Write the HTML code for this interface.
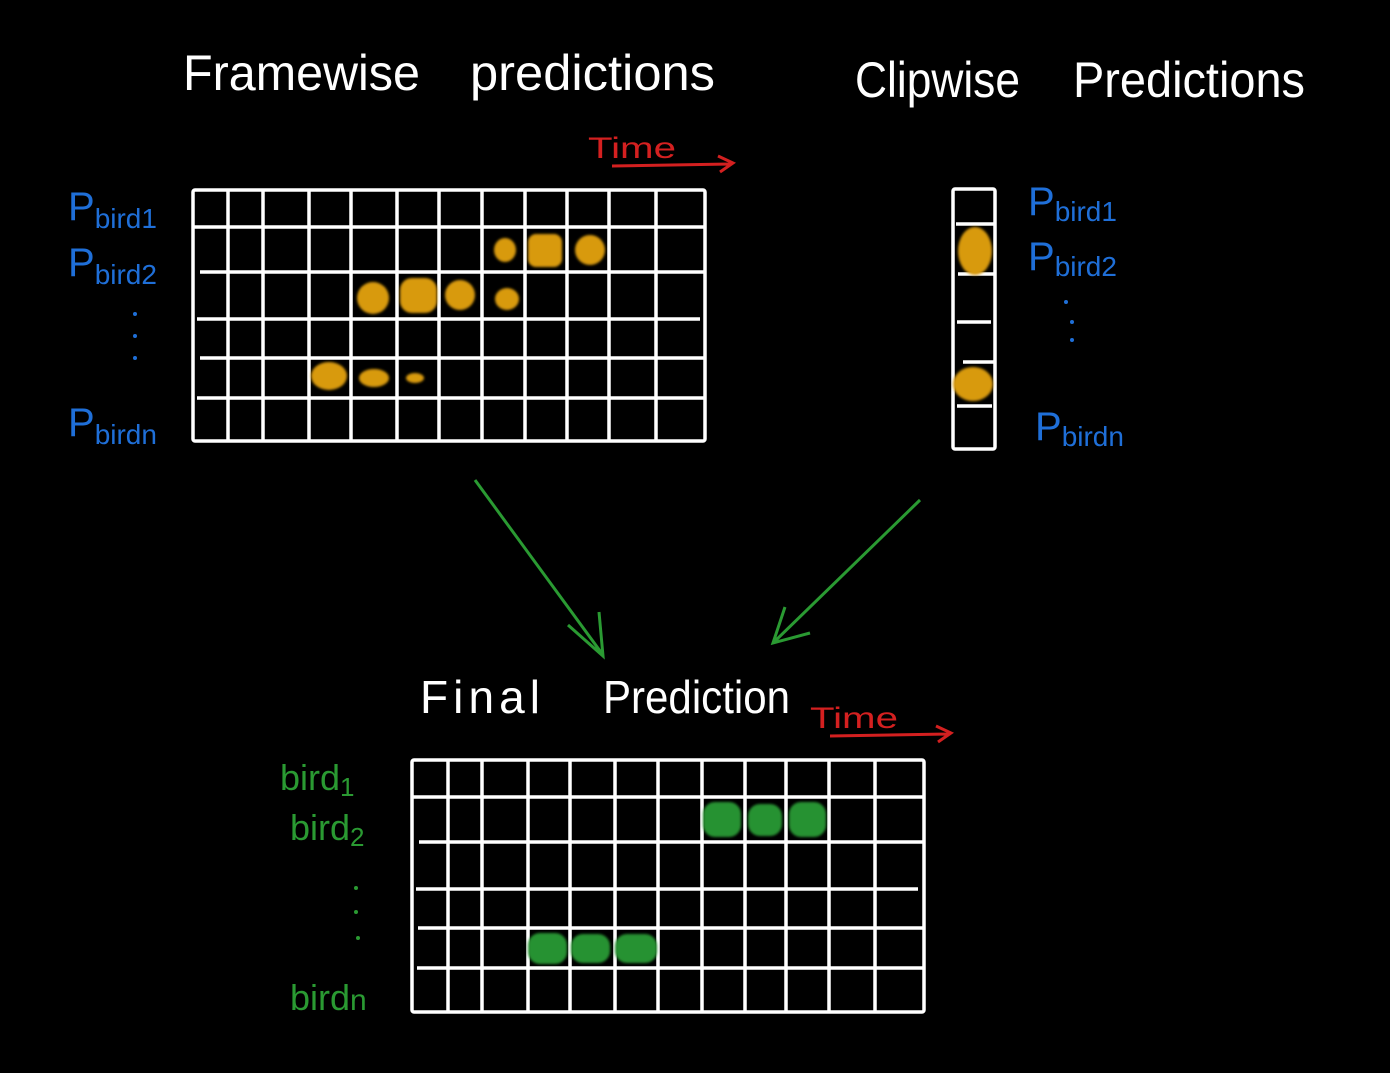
<!DOCTYPE html>
<html><head><meta charset="utf-8"><style>
html,body{margin:0;padding:0;background:#000;}
body{width:1390px;height:1073px;overflow:hidden;position:relative;}
svg{position:absolute;left:0;top:0;}
text{font-family:"Liberation Sans","DejaVu Sans",sans-serif;}
</style></head><body>
<svg width="1390" height="1073" viewBox="0 0 1390 1073">
<defs><filter id="b"><feGaussianBlur stdDeviation="1.2"/></filter></defs>
<!-- titles -->
<text x="183" y="90" fill="#fff" font-size="50" textLength="237" lengthAdjust="spacingAndGlyphs">Framewise</text>
<text x="470" y="90" fill="#fff" font-size="50" textLength="245" lengthAdjust="spacingAndGlyphs">predictions</text>
<text x="855" y="97" fill="#fff" font-size="50" textLength="165" lengthAdjust="spacingAndGlyphs">Clipwise</text>
<text x="1073" y="97" fill="#fff" font-size="50" textLength="232" lengthAdjust="spacingAndGlyphs">Predictions</text>
<text x="420" y="713" fill="#fff" font-size="46" textLength="120" lengthAdjust="spacing">Final</text>
<text x="603" y="713" fill="#fff" font-size="46" textLength="187" lengthAdjust="spacingAndGlyphs">Prediction</text>
<!-- Time -->
<text x="588" y="158" fill="#d42020" font-size="30" textLength="88" lengthAdjust="spacingAndGlyphs">Time</text>
<path d="M612 166 L730 164 M718 156 L733 163 L720 172" stroke="#d42020" stroke-width="3" fill="none"/>
<text x="810" y="728" fill="#d42020" font-size="30" textLength="88" lengthAdjust="spacingAndGlyphs">Time</text>
<path d="M830 736 L948 734 M936 726 L951 733 L938 742" stroke="#d42020" stroke-width="3" fill="none"/>
<!-- blue labels left -->
<g fill="#1f6fd8" font-size="40">
<text x="68" y="220">P<tspan font-size="28" dy="8">bird1</tspan></text>
<text x="68" y="276">P<tspan font-size="28" dy="8">bird2</tspan></text>
<text x="68" y="436">P<tspan font-size="28" dy="8">birdn</tspan></text>
<text x="1028" y="215">P<tspan font-size="28" dy="6">bird1</tspan></text>
<text x="1028" y="270">P<tspan font-size="28" dy="6">bird2</tspan></text>
<text x="1035" y="440">P<tspan font-size="28" dy="6">birdn</tspan></text>
</g>
<g fill="#1f6fd8"><circle cx="135" cy="314" r="2"/><circle cx="135" cy="336" r="2"/><circle cx="135" cy="358" r="2"/>
<circle cx="1066" cy="302" r="2"/><circle cx="1072" cy="322" r="2"/><circle cx="1072" cy="340" r="2"/></g>
<!-- green labels -->
<g fill="#2a9a32" font-size="36">
<text x="280" y="790">bird<tspan font-size="26" dy="6">1</tspan></text>
<text x="290" y="840">bird<tspan font-size="26" dy="6">2</tspan></text>
<text x="290" y="1010">bird<tspan font-size="30">n</tspan></text>
</g>
<g fill="#2a9a32"><circle cx="356" cy="888" r="2"/><circle cx="356" cy="912" r="2"/><circle cx="358" cy="938" r="2"/></g>
<!-- top grid -->
<g stroke="#fff" stroke-width="3.5" fill="none">
<rect x="193" y="190" width="512" height="251" rx="2"/>
<path d="M228 190V441M263 190V441M309 190V441M351 190V441M397 190V441M439 190V441M482 190V441M525 190V441M567 190V441M609 190V441M656 190V441"/>
<path d="M193 227H705M200 272H705M197 319H700M200 358H705M197 398H705"/>
</g>
<g fill="#d89a10" filter="url(#b)">
<ellipse cx="505" cy="250" rx="11" ry="12"/><rect x="528" y="234" width="34" height="33" rx="8"/><ellipse cx="590" cy="250" rx="15" ry="15"/>
<ellipse cx="373" cy="298" rx="16" ry="16"/><rect x="400" y="278" width="37" height="35" rx="12"/><ellipse cx="460" cy="295" rx="15" ry="15"/><ellipse cx="507" cy="299" rx="12" ry="11"/>
<ellipse cx="329" cy="376" rx="18" ry="14"/><ellipse cx="374" cy="378" rx="15" ry="9"/><ellipse cx="415" cy="378" rx="9" ry="5"/>
</g>
<!-- clip column -->
<g stroke="#fff" stroke-width="3.5" fill="none">
<rect x="953" y="189" width="42" height="260" rx="2"/>
<path d="M956 224H994M958 274H994M957 322H991M963 362H994M957 406H992"/>
</g>
<g fill="#d89a10" filter="url(#b)"><ellipse cx="975" cy="251" rx="17" ry="24"/><ellipse cx="973" cy="384" rx="20" ry="17"/></g>
<!-- arrows -->
<g stroke="#2a9a32" stroke-width="3" fill="none">
<path d="M475 480L603 655M568 625L603 656L599 612"/>
<path d="M920 500L773 643M785 607L773 643L810 633"/>
</g>
<!-- bottom grid -->
<g stroke="#fff" stroke-width="3.5" fill="none">
<rect x="412" y="760" width="512" height="252" rx="2"/>
<path d="M448 760V1012M482 760V1012M528 760V1012M570 760V1012M615 760V1012M658 760V1012M702 760V1012M745 760V1012M786 760V1012M829 760V1012M875 760V1012"/>
<path d="M412 797H924M419 842H924M416 889H918M418 928H924M417 968H924"/>
</g>
<g fill="#269232" filter="url(#b)">
<rect x="703" y="802" width="38" height="35" rx="12"/><rect x="748" y="804" width="34" height="32" rx="12"/><rect x="789" y="802" width="37" height="35" rx="12"/>
<rect x="528" y="933" width="39" height="31" rx="12"/><rect x="571" y="934" width="39" height="29" rx="12"/><rect x="615" y="934" width="42" height="29" rx="12"/>
</g>
</svg>
</body></html>
